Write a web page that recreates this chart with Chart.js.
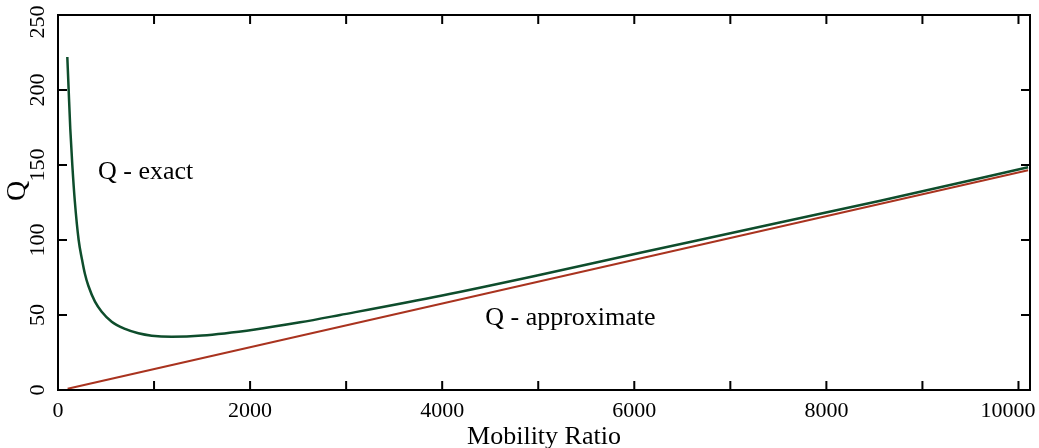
<!DOCTYPE html>
<html>
<head>
<meta charset="utf-8">
<script src="https://cdn.jsdelivr.net/npm/chart.js@4.4.1/dist/chart.umd.min.js"></script>
<style>
  body { margin: 0; background: #fff; }
  canvas { display: block; }
</style>
</head>
<body>
<canvas id="myChart" width="1039" height="448"></canvas>
<script>
// values
const mobility = [97, 111, 128, 149, 175, 215, 250, 280, 316, 385, 455, 559, 698, 837, 976, 1184, 1500, 2052, 2521, 2937, 4000, 5000, 6062, 7000, 8562, 10100];
const qExact = [222, 200, 174, 150, 126, 100, 87, 77.5, 69.5, 58.9, 52.2, 45.5, 40.7, 37.8, 36.2, 35.5, 36.3, 40.4, 45.1, 50, 63, 76.5, 91.5, 104.5, 126.2, 148.5];
const mobilityApprox = [100, 10100];
const qApprox = [0.8, 146.5];
const xTicks = [0, 1000, 2000, 3000, 4000, 5000, 6000, 7000, 8000, 9000, 10000];
const xLabels = [0, 2000, 4000, 6000, 8000, 10000];
const yTicks = [0, 50, 100, 150, 200, 250];

const serif = "'Liberation Serif', 'DejaVu Serif', serif";

function toPoints(xs, ys) {
    return xs.map((x, i) => ({ x: x, y: ys[i] }));
}

// inward tick marks, box frame, tick labels and curve labels
const framePlugin = {
    id: 'frame',
    afterDraw(chart) {
        const ctx = chart.ctx;
        const a = chart.chartArea;
        const xs = chart.scales.x;
        const ys = chart.scales.y;
        const len = 9;
        ctx.save();
        ctx.strokeStyle = '#000';
        ctx.lineWidth = 2;
        ctx.strokeRect(a.left, a.top, a.right - a.left, a.bottom - a.top);
        ctx.beginPath();
        xTicks.forEach((v) => {
            const px = xs.getPixelForValue(v);
            ctx.moveTo(px, a.bottom); ctx.lineTo(px, a.bottom - len);
            ctx.moveTo(px, a.top); ctx.lineTo(px, a.top + len);
        });
        yTicks.forEach((v) => {
            const py = ys.getPixelForValue(v);
            ctx.moveTo(a.left, py); ctx.lineTo(a.left + len, py);
            ctx.moveTo(a.right, py); ctx.lineTo(a.right - len, py);
        });
        ctx.stroke();

        ctx.fillStyle = '#000';
        ctx.textAlign = 'center';
        ctx.textBaseline = 'middle';
        ctx.font = '22px ' + serif;
        xLabels.forEach((v) => {
            const px = Math.min(xs.getPixelForValue(v), chart.width - 31);
            ctx.fillText(String(v), px, a.bottom + 21);
        });
        yTicks.forEach((v) => {
            const py = Math.max(ys.getPixelForValue(v), 22);
            ctx.save();
            ctx.translate(38, py);
            ctx.rotate(-Math.PI / 2);
            ctx.fillText(String(v), 0, 0);
            ctx.restore();
        });
        ctx.save();
        ctx.font = '28px ' + serif;
        ctx.translate(18, 191);
        ctx.rotate(-Math.PI / 2);
        ctx.fillText('Q', 0, 0);
        ctx.restore();

        ctx.font = '26px ' + serif;
        ctx.textAlign = 'left';
        ctx.fillText('Q - exact', xs.getPixelForValue(417), ys.getPixelForValue(145));
        ctx.fillText('Q - approximate', xs.getPixelForValue(4448), ys.getPixelForValue(48));
        ctx.restore();
    }
};

const config = {
    type: 'line',
    data: {
        datasets: [
            {
                label: 'Q - exact',
                data: toPoints(mobility, qExact),
                borderColor: '#0e4d2c',
                borderWidth: 2.5,
                pointRadius: 0,
                cubicInterpolationMode: 'monotone',
            },
            {
                label: 'Q - approximate',
                data: toPoints(mobilityApprox, qApprox),
                borderColor: '#a9331f',
                borderWidth: 2,
                pointRadius: 0,
            },
        ],
    },
    options: {
        responsive: false,
        animation: false,
        layout: { padding: { top: 15, right: 9, left: 0, bottom: 0 } },
        plugins: {
            legend: { display: false },
            tooltip: { enabled: false },
        },
        scales: {
            x: {
                type: 'linear',
                min: 0,
                max: 10120,
                grid: { display: false, drawTicks: false },
                border: { display: false },
                ticks: { display: false },
                afterFit: (s) => {
                    s.height = 58;
                    s.paddingLeft = 0;
                    s.paddingRight = 0;
                },
                title: {
                    display: true,
                    text: 'Mobility Ratio',
                    color: '#000',
                    font: { family: serif, size: 26, lineHeight: 0.82 },
                    padding: { top: 0, bottom: 0 },
                },
            },
            y: {
                min: 0,
                max: 250,
                grid: { display: false, drawTicks: false },
                border: { display: false },
                ticks: { display: false, stepSize: 50 },
                afterFit: (s) => { s.width = 58; },
            },
        },
    },
    plugins: [framePlugin],
};

new Chart(document.getElementById('myChart'), config);
</script>
</body>
</html>
